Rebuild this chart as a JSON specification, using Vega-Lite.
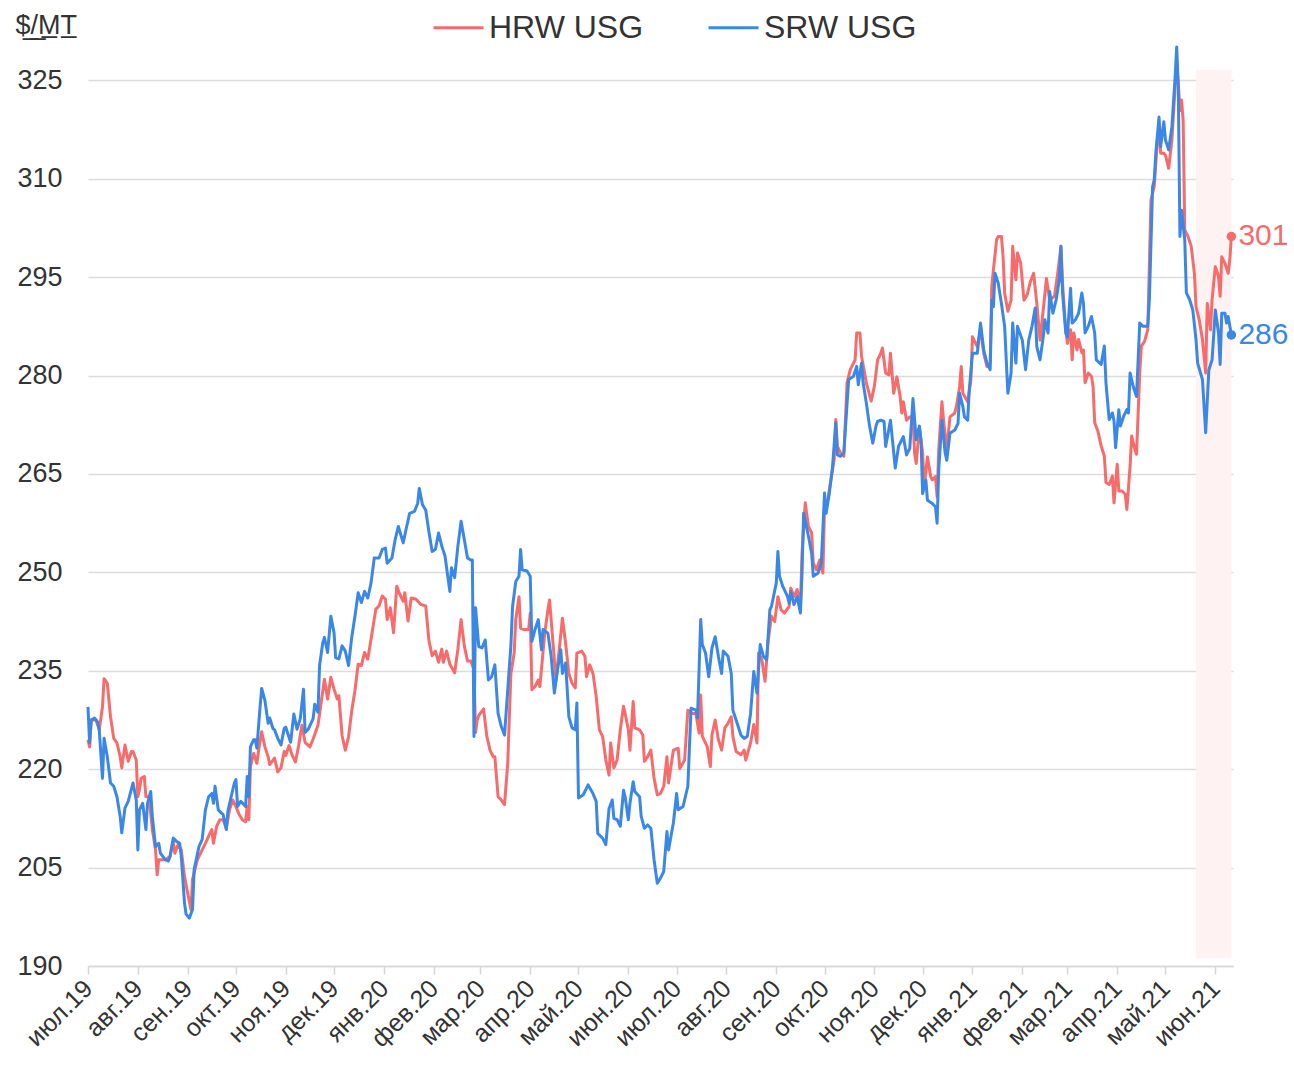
{
"$schema": "https://vega.github.io/schema/vega-lite/v6.json",
"width": 1145, "height": 925, "autosize": "none",
"padding": {"left": 88, "top": 41, "right": 61, "bottom": 99},
"background": "white",
"datasets": {
"prices": [
{"date":"2019-07-01","series":"HRW USG","value":224.5},{"date":"2019-07-02","series":"HRW USG","value":223.4},{"date":"2019-07-03","series":"HRW USG","value":227.5},{"date":"2019-07-06","series":"HRW USG","value":227.5},{"date":"2019-07-08","series":"HRW USG","value":226.0},{"date":"2019-07-10","series":"HRW USG","value":229.5},{"date":"2019-07-11","series":"HRW USG","value":233.8},{"date":"2019-07-13","series":"HRW USG","value":233.1},{"date":"2019-07-15","series":"HRW USG","value":228.0},{"date":"2019-07-17","series":"HRW USG","value":224.7},{"date":"2019-07-19","series":"HRW USG","value":224.0},{"date":"2019-07-21","series":"HRW USG","value":221.9},{"date":"2019-07-22","series":"HRW USG","value":220.2},{"date":"2019-07-24","series":"HRW USG","value":223.7},{"date":"2019-07-26","series":"HRW USG","value":221.2},{"date":"2019-07-28","series":"HRW USG","value":222.7},{"date":"2019-07-29","series":"HRW USG","value":222.7},{"date":"2019-07-31","series":"HRW USG","value":221.4},{"date":"2019-08-01","series":"HRW USG","value":215.8},{"date":"2019-08-02","series":"HRW USG","value":216.9},{"date":"2019-08-03","series":"HRW USG","value":218.6},{"date":"2019-08-05","series":"HRW USG","value":218.9},{"date":"2019-08-06","series":"HRW USG","value":215.8},{"date":"2019-08-08","series":"HRW USG","value":215.8},{"date":"2019-08-10","series":"HRW USG","value":210.8},{"date":"2019-08-12","series":"HRW USG","value":207.7},{"date":"2019-08-13","series":"HRW USG","value":203.9},{"date":"2019-08-14","series":"HRW USG","value":206.2},{"date":"2019-08-18","series":"HRW USG","value":206.2},{"date":"2019-08-21","series":"HRW USG","value":206.7},{"date":"2019-08-23","series":"HRW USG","value":209.0},{"date":"2019-08-24","series":"HRW USG","value":207.2},{"date":"2019-08-26","series":"HRW USG","value":208.5},{"date":"2019-08-28","series":"HRW USG","value":207.7},{"date":"2019-08-30","series":"HRW USG","value":203.7},{"date":"2019-09-01","series":"HRW USG","value":201.1},{"date":"2019-09-03","series":"HRW USG","value":198.6},{"date":"2019-09-04","series":"HRW USG","value":203.2},{"date":"2019-09-07","series":"HRW USG","value":206.2},{"date":"2019-09-10","series":"HRW USG","value":207.7},{"date":"2019-09-12","series":"HRW USG","value":208.7},{"date":"2019-09-14","series":"HRW USG","value":209.8},{"date":"2019-09-16","series":"HRW USG","value":210.8},{"date":"2019-09-17","series":"HRW USG","value":208.7},{"date":"2019-09-19","series":"HRW USG","value":211.3},{"date":"2019-09-21","series":"HRW USG","value":212.3},{"date":"2019-09-23","series":"HRW USG","value":212.3},{"date":"2019-09-25","series":"HRW USG","value":211.0},{"date":"2019-09-27","series":"HRW USG","value":213.8},{"date":"2019-09-29","series":"HRW USG","value":215.3},{"date":"2019-10-01","series":"HRW USG","value":214.3},{"date":"2019-10-03","series":"HRW USG","value":213.1},{"date":"2019-10-05","series":"HRW USG","value":212.3},{"date":"2019-10-07","series":"HRW USG","value":212.0},{"date":"2019-10-08","series":"HRW USG","value":214.3},{"date":"2019-10-09","series":"HRW USG","value":212.3},{"date":"2019-10-10","series":"HRW USG","value":220.4},{"date":"2019-10-12","series":"HRW USG","value":222.4},{"date":"2019-10-14","series":"HRW USG","value":220.9},{"date":"2019-10-15","series":"HRW USG","value":222.7},{"date":"2019-10-17","series":"HRW USG","value":225.7},{"date":"2019-10-19","series":"HRW USG","value":223.4},{"date":"2019-10-21","series":"HRW USG","value":221.9},{"date":"2019-10-22","series":"HRW USG","value":220.7},{"date":"2019-10-25","series":"HRW USG","value":221.7},{"date":"2019-10-27","series":"HRW USG","value":219.6},{"date":"2019-10-29","series":"HRW USG","value":220.2},{"date":"2019-10-31","series":"HRW USG","value":222.7},
{"date":"2019-11-01","series":"HRW USG","value":222.1},{"date":"2019-11-03","series":"HRW USG","value":223.6},{"date":"2019-11-05","series":"HRW USG","value":222.1},{"date":"2019-11-07","series":"HRW USG","value":221.1},{"date":"2019-11-09","series":"HRW USG","value":223.6},{"date":"2019-11-11","series":"HRW USG","value":226.7},{"date":"2019-11-13","series":"HRW USG","value":224.1},{"date":"2019-11-16","series":"HRW USG","value":223.4},{"date":"2019-11-18","series":"HRW USG","value":224.6},{"date":"2019-11-21","series":"HRW USG","value":226.7},{"date":"2019-11-23","series":"HRW USG","value":230.2},{"date":"2019-11-25","series":"HRW USG","value":233.7},{"date":"2019-11-27","series":"HRW USG","value":230.7},{"date":"2019-11-29","series":"HRW USG","value":234.0},{"date":"2019-12-01","series":"HRW USG","value":232.2},{"date":"2019-12-03","series":"HRW USG","value":230.7},{"date":"2019-12-04","series":"HRW USG","value":231.2},{"date":"2019-12-06","series":"HRW USG","value":225.1},{"date":"2019-12-08","series":"HRW USG","value":222.9},{"date":"2019-12-10","series":"HRW USG","value":224.9},{"date":"2019-12-12","series":"HRW USG","value":228.9},{"date":"2019-12-14","series":"HRW USG","value":232.0},{"date":"2019-12-16","series":"HRW USG","value":236.0},{"date":"2019-12-18","series":"HRW USG","value":235.8},{"date":"2019-12-20","series":"HRW USG","value":237.8},{"date":"2019-12-22","series":"HRW USG","value":236.8},{"date":"2019-12-24","series":"HRW USG","value":239.8},{"date":"2019-12-27","series":"HRW USG","value":244.4},{"date":"2019-12-29","series":"HRW USG","value":244.9},{"date":"2019-12-31","series":"HRW USG","value":246.4},{"date":"2020-01-02","series":"HRW USG","value":245.9},{"date":"2020-01-03","series":"HRW USG","value":242.8},{"date":"2020-01-05","series":"HRW USG","value":244.6},{"date":"2020-01-07","series":"HRW USG","value":240.8},{"date":"2020-01-09","series":"HRW USG","value":247.9},{"date":"2020-01-11","series":"HRW USG","value":246.6},{"date":"2020-01-13","series":"HRW USG","value":245.6},{"date":"2020-01-14","series":"HRW USG","value":246.9},{"date":"2020-01-16","series":"HRW USG","value":242.6},{"date":"2020-01-18","series":"HRW USG","value":246.1},{"date":"2020-01-21","series":"HRW USG","value":245.9},{"date":"2020-01-24","series":"HRW USG","value":245.1},{"date":"2020-01-27","series":"HRW USG","value":244.9},{"date":"2020-01-29","series":"HRW USG","value":239.6},{"date":"2020-01-31","series":"HRW USG","value":237.3},{"date":"2020-02-02","series":"HRW USG","value":238.0},{"date":"2020-02-04","series":"HRW USG","value":236.3},{"date":"2020-02-06","series":"HRW USG","value":238.3},{"date":"2020-02-07","series":"HRW USG","value":236.3},{"date":"2020-02-09","series":"HRW USG","value":238.0},{"date":"2020-02-11","series":"HRW USG","value":236.0},{"date":"2020-02-14","series":"HRW USG","value":234.7},{"date":"2020-02-16","series":"HRW USG","value":238.3},{"date":"2020-02-18","series":"HRW USG","value":242.8},{"date":"2020-02-20","series":"HRW USG","value":238.8},{"date":"2020-02-22","series":"HRW USG","value":236.5},{"date":"2020-02-24","series":"HRW USG","value":236.5},{"date":"2020-02-26","series":"HRW USG","value":235.2},{"date":"2020-02-27","series":"HRW USG","value":225.6},{"date":"2020-02-28","series":"HRW USG","value":227.5},{"date":"2020-02-29","series":"HRW USG","value":228.2},{"date":"2020-03-03","series":"HRW USG","value":229.2},{"date":"2020-03-05","series":"HRW USG","value":225.0},{"date":"2020-03-07","series":"HRW USG","value":222.9},{"date":"2020-03-09","series":"HRW USG","value":221.9},{"date":"2020-03-10","series":"HRW USG","value":221.9},{"date":"2020-03-12","series":"HRW USG","value":215.8},{"date":"2020-03-14","series":"HRW USG","value":215.3},{"date":"2020-03-16","series":"HRW USG","value":214.6},{"date":"2020-03-18","series":"HRW USG","value":220.9},{"date":"2020-03-19","series":"HRW USG","value":228.0},{"date":"2020-03-20","series":"HRW USG","value":234.6},{"date":"2020-03-22","series":"HRW USG","value":237.7},{"date":"2020-03-23","series":"HRW USG","value":242.8},{"date":"2020-03-25","series":"HRW USG","value":246.3},{"date":"2020-03-26","series":"HRW USG","value":241.5},{"date":"2020-03-28","series":"HRW USG","value":241.3},{"date":"2020-03-31","series":"HRW USG","value":241.3},{"date":"2020-04-01","series":"HRW USG","value":243.8},{"date":"2020-04-02","series":"HRW USG","value":232.1},{"date":"2020-04-04","series":"HRW USG","value":232.6},{"date":"2020-04-06","series":"HRW USG","value":233.6},{"date":"2020-04-07","series":"HRW USG","value":232.6},{"date":"2020-04-10","series":"HRW USG","value":240.7},{"date":"2020-04-12","series":"HRW USG","value":244.3},{"date":"2020-04-13","series":"HRW USG","value":245.8},{"date":"2020-04-15","series":"HRW USG","value":239.7},{"date":"2020-04-17","series":"HRW USG","value":233.6},{"date":"2020-04-19","series":"HRW USG","value":238.2},{"date":"2020-04-21","series":"HRW USG","value":243.0},{"date":"2020-04-23","series":"HRW USG","value":239.2},{"date":"2020-04-25","series":"HRW USG","value":234.6},{"date":"2020-04-27","series":"HRW USG","value":233.1},{"date":"2020-04-29","series":"HRW USG","value":232.4},{"date":"2020-04-30","series":"HRW USG","value":237.7},{"date":"2020-05-03","series":"HRW USG","value":238.0},{"date":"2020-05-05","series":"HRW USG","value":237.2},{"date":"2020-05-06","series":"HRW USG","value":234.1},{"date":"2020-05-08","series":"HRW USG","value":235.9},{"date":"2020-05-10","series":"HRW USG","value":234.6},{"date":"2020-05-12","series":"HRW USG","value":231.1},{"date":"2020-05-14","series":"HRW USG","value":226.0},{"date":"2020-05-16","series":"HRW USG","value":225.0},{"date":"2020-05-18","series":"HRW USG","value":221.4},{"date":"2020-05-20","series":"HRW USG","value":219.1},{"date":"2020-05-21","series":"HRW USG","value":224.0},{"date":"2020-05-23","series":"HRW USG","value":220.2},{"date":"2020-05-25","series":"HRW USG","value":221.4},{"date":"2020-05-27","series":"HRW USG","value":226.0},{"date":"2020-05-29","series":"HRW USG","value":229.6},{"date":"2020-05-30","series":"HRW USG","value":228.5},{"date":"2020-06-01","series":"HRW USG","value":226.0},{"date":"2020-06-02","series":"HRW USG","value":222.9},{"date":"2020-06-04","series":"HRW USG","value":230.3},{"date":"2020-06-05","series":"HRW USG","value":226.3},{"date":"2020-06-08","series":"HRW USG","value":226.0},{"date":"2020-06-10","series":"HRW USG","value":225.2},{"date":"2020-06-11","series":"HRW USG","value":221.2},{"date":"2020-06-13","series":"HRW USG","value":221.9},{"date":"2020-06-15","series":"HRW USG","value":222.9},{"date":"2020-06-17","series":"HRW USG","value":218.6},{"date":"2020-06-19","series":"HRW USG","value":216.1},{"date":"2020-06-21","series":"HRW USG","value":216.3},{"date":"2020-06-23","series":"HRW USG","value":217.4},{"date":"2020-06-25","series":"HRW USG","value":221.9},{"date":"2020-06-26","series":"HRW USG","value":217.9},{"date":"2020-06-29","series":"HRW USG","value":222.9},{"date":"2020-07-02","series":"HRW USG","value":223.2},{"date":"2020-07-03","series":"HRW USG","value":220.1},{"date":"2020-07-06","series":"HRW USG","value":221.4},{"date":"2020-07-08","series":"HRW USG","value":229.0},{"date":"2020-07-10","series":"HRW USG","value":228.5},{"date":"2020-07-13","series":"HRW USG","value":228.5},{"date":"2020-07-15","series":"HRW USG","value":225.5},{"date":"2020-07-16","series":"HRW USG","value":231.3},{"date":"2020-07-17","series":"HRW USG","value":225.0},{"date":"2020-07-20","series":"HRW USG","value":223.5},{"date":"2020-07-22","series":"HRW USG","value":220.4},{"date":"2020-07-23","series":"HRW USG","value":225.2},{"date":"2020-07-25","series":"HRW USG","value":227.5},{"date":"2020-07-27","series":"HRW USG","value":224.5},{"date":"2020-07-29","series":"HRW USG","value":222.9},{"date":"2020-07-31","series":"HRW USG","value":226.3},{"date":"2020-08-02","series":"HRW USG","value":227.0},{"date":"2020-08-04","series":"HRW USG","value":228.0},{"date":"2020-08-05","series":"HRW USG","value":225.0},{"date":"2020-08-07","series":"HRW USG","value":222.7},{"date":"2020-08-10","series":"HRW USG","value":222.2},{"date":"2020-08-12","series":"HRW USG","value":222.9},{"date":"2020-08-13","series":"HRW USG","value":221.4},{"date":"2020-08-16","series":"HRW USG","value":224.0},{"date":"2020-08-18","series":"HRW USG","value":226.8},{"date":"2020-08-20","series":"HRW USG","value":224.0},{"date":"2020-08-21","series":"HRW USG","value":237.7},{"date":"2020-08-23","series":"HRW USG","value":236.7},{"date":"2020-08-25","series":"HRW USG","value":233.4},{"date":"2020-08-27","series":"HRW USG","value":239.7},{"date":"2020-08-29","series":"HRW USG","value":243.3},{"date":"2020-08-31","series":"HRW USG","value":242.5},{"date":"2020-09-02","series":"HRW USG","value":246.3},{"date":"2020-09-04","series":"HRW USG","value":244.3},{"date":"2020-09-06","series":"HRW USG","value":243.8},{"date":"2020-09-09","series":"HRW USG","value":244.8},{"date":"2020-09-10","series":"HRW USG","value":247.6},{"date":"2020-09-12","series":"HRW USG","value":246.3},{"date":"2020-09-14","series":"HRW USG","value":247.4},{"date":"2020-09-16","series":"HRW USG","value":244.8},{"date":"2020-09-17","series":"HRW USG","value":252.9},{"date":"2020-09-19","series":"HRW USG","value":260.6},{"date":"2020-09-21","series":"HRW USG","value":257.0},{"date":"2020-09-23","series":"HRW USG","value":256.0},{"date":"2020-09-24","series":"HRW USG","value":251.4},{"date":"2020-09-26","series":"HRW USG","value":250.4},{"date":"2020-09-28","series":"HRW USG","value":251.9},{"date":"2020-09-30","series":"HRW USG","value":249.9},{"date":"2020-10-01","series":"HRW USG","value":260.1},{"date":"2020-10-03","series":"HRW USG","value":261.1},{"date":"2020-10-05","series":"HRW USG","value":264.1},{"date":"2020-10-07","series":"HRW USG","value":267.2},{"date":"2020-10-08","series":"HRW USG","value":273.3},{"date":"2020-10-09","series":"HRW USG","value":269.2},{"date":"2020-10-11","series":"HRW USG","value":268.2},{"date":"2020-10-13","series":"HRW USG","value":267.7},{"date":"2020-10-15","series":"HRW USG","value":278.9},{"date":"2020-10-17","series":"HRW USG","value":280.9},{"date":"2020-10-20","series":"HRW USG","value":282.4},{"date":"2020-10-21","series":"HRW USG","value":286.5},{"date":"2020-10-23","series":"HRW USG","value":286.5},{"date":"2020-10-24","series":"HRW USG","value":283.0},{"date":"2020-10-27","series":"HRW USG","value":278.9},{"date":"2020-10-30","series":"HRW USG","value":276.1},{"date":"2020-11-01","series":"HRW USG","value":278.4},{"date":"2020-11-03","series":"HRW USG","value":282.4},{"date":"2020-11-05","series":"HRW USG","value":283.4},{"date":"2020-11-06","series":"HRW USG","value":284.2},{"date":"2020-11-08","series":"HRW USG","value":280.4},{"date":"2020-11-10","series":"HRW USG","value":280.1},{"date":"2020-11-11","series":"HRW USG","value":283.4},{"date":"2020-11-13","series":"HRW USG","value":277.3},{"date":"2020-11-15","series":"HRW USG","value":279.8},{"date":"2020-11-17","series":"HRW USG","value":276.8},{"date":"2020-11-18","series":"HRW USG","value":274.3},{"date":"2020-11-19","series":"HRW USG","value":276.0},{"date":"2020-11-21","series":"HRW USG","value":273.2},{"date":"2020-11-23","series":"HRW USG","value":273.7},{"date":"2020-11-25","series":"HRW USG","value":273.7},{"date":"2020-11-26","series":"HRW USG","value":268.2},{"date":"2020-11-27","series":"HRW USG","value":266.6},{"date":"2020-11-29","series":"HRW USG","value":272.0},{"date":"2020-12-01","series":"HRW USG","value":268.2},{"date":"2020-12-02","series":"HRW USG","value":263.1},{"date":"2020-12-04","series":"HRW USG","value":267.6},{"date":"2020-12-06","series":"HRW USG","value":264.6},{"date":"2020-12-07","series":"HRW USG","value":264.1},{"date":"2020-12-09","series":"HRW USG","value":264.6},{"date":"2020-12-10","series":"HRW USG","value":261.5},{"date":"2020-12-11","series":"HRW USG","value":268.7},{"date":"2020-12-13","series":"HRW USG","value":276.0},{"date":"2020-12-14","series":"HRW USG","value":273.2},{"date":"2020-12-16","series":"HRW USG","value":268.7},{"date":"2020-12-18","series":"HRW USG","value":273.7},{"date":"2020-12-21","series":"HRW USG","value":274.3},{"date":"2020-12-22","series":"HRW USG","value":275.3},{"date":"2020-12-24","series":"HRW USG","value":278.3},{"date":"2020-12-25","series":"HRW USG","value":281.4},{"date":"2020-12-26","series":"HRW USG","value":277.3},{"date":"2020-12-29","series":"HRW USG","value":276.0},{"date":"2020-12-31","series":"HRW USG","value":279.3},{"date":"2021-01-01","series":"HRW USG","value":285.9},{"date":"2021-01-02","series":"HRW USG","value":285.4},{"date":"2021-01-04","series":"HRW USG","value":284.4},{"date":"2021-01-06","series":"HRW USG","value":287.0},{"date":"2021-01-08","series":"HRW USG","value":283.4},{"date":"2021-01-10","series":"HRW USG","value":281.4},{"date":"2021-01-12","series":"HRW USG","value":281.9},{"date":"2021-01-13","series":"HRW USG","value":293.6},{"date":"2021-01-14","series":"HRW USG","value":296.1},{"date":"2021-01-16","series":"HRW USG","value":300.7},{"date":"2021-01-17","series":"HRW USG","value":301.2},{"date":"2021-01-19","series":"HRW USG","value":301.2},{"date":"2021-01-20","series":"HRW USG","value":298.2},{"date":"2021-01-21","series":"HRW USG","value":292.6},{"date":"2021-01-23","series":"HRW USG","value":289.8},{"date":"2021-01-25","series":"HRW USG","value":291.5},{"date":"2021-01-26","series":"HRW USG","value":299.7},{"date":"2021-01-28","series":"HRW USG","value":294.6},{"date":"2021-01-29","series":"HRW USG","value":298.7},{"date":"2021-01-31","series":"HRW USG","value":297.1},{"date":"2021-02-02","series":"HRW USG","value":291.5},{"date":"2021-02-04","series":"HRW USG","value":292.3},{"date":"2021-02-06","series":"HRW USG","value":294.3},{"date":"2021-02-08","series":"HRW USG","value":295.6},{"date":"2021-02-10","series":"HRW USG","value":291.0},{"date":"2021-02-12","series":"HRW USG","value":285.4},{"date":"2021-02-14","series":"HRW USG","value":290.0},{"date":"2021-02-16","series":"HRW USG","value":294.8},{"date":"2021-02-18","series":"HRW USG","value":291.5},{"date":"2021-02-21","series":"HRW USG","value":292.1},{"date":"2021-02-23","series":"HRW USG","value":295.6},{"date":"2021-02-25","series":"HRW USG","value":299.7},{"date":"2021-02-26","series":"HRW USG","value":294.1},{"date":"2021-02-28","series":"HRW USG","value":287.0},{"date":"2021-03-01","series":"HRW USG","value":284.9},{"date":"2021-03-03","series":"HRW USG","value":287.0},{"date":"2021-03-04","series":"HRW USG","value":282.4},{"date":"2021-03-05","series":"HRW USG","value":286.5},{"date":"2021-03-07","series":"HRW USG","value":283.9},{"date":"2021-03-08","series":"HRW USG","value":285.5},{"date":"2021-03-10","series":"HRW USG","value":283.5},{"date":"2021-03-11","series":"HRW USG","value":283.9},{"date":"2021-03-12","series":"HRW USG","value":278.9},{"date":"2021-03-14","series":"HRW USG","value":280.4},{"date":"2021-03-16","series":"HRW USG","value":279.9},{"date":"2021-03-17","series":"HRW USG","value":278.3},{"date":"2021-03-18","series":"HRW USG","value":272.8},{"date":"2021-03-20","series":"HRW USG","value":271.5},{"date":"2021-03-22","series":"HRW USG","value":269.3},{"date":"2021-03-24","series":"HRW USG","value":267.7},{"date":"2021-03-25","series":"HRW USG","value":263.7},{"date":"2021-03-27","series":"HRW USG","value":263.4},{"date":"2021-03-29","series":"HRW USG","value":264.7},{"date":"2021-03-30","series":"HRW USG","value":260.6},{"date":"2021-04-01","series":"HRW USG","value":266.5},{"date":"2021-04-02","series":"HRW USG","value":262.4},{"date":"2021-04-04","series":"HRW USG","value":262.4},{"date":"2021-04-06","series":"HRW USG","value":261.9},{"date":"2021-04-07","series":"HRW USG","value":259.6},{"date":"2021-04-09","series":"HRW USG","value":266.2},{"date":"2021-04-10","series":"HRW USG","value":270.8},{"date":"2021-04-12","series":"HRW USG","value":268.7},{"date":"2021-04-13","series":"HRW USG","value":268.0},{"date":"2021-04-15","series":"HRW USG","value":280.4},{"date":"2021-04-16","series":"HRW USG","value":284.5},{"date":"2021-04-18","series":"HRW USG","value":285.2},{"date":"2021-04-20","series":"HRW USG","value":287.0},{"date":"2021-04-22","series":"HRW USG","value":306.8},{"date":"2021-04-24","series":"HRW USG","value":308.8},{"date":"2021-04-26","series":"HRW USG","value":315.9},{"date":"2021-04-27","series":"HRW USG","value":317.9},{"date":"2021-04-28","series":"HRW USG","value":313.9},{"date":"2021-04-30","series":"HRW USG","value":313.9},{"date":"2021-05-01","series":"HRW USG","value":313.6},{"date":"2021-05-03","series":"HRW USG","value":311.6},{"date":"2021-05-05","series":"HRW USG","value":315.9},{"date":"2021-05-07","series":"HRW USG","value":324.0},{"date":"2021-05-08","series":"HRW USG","value":328.0},{"date":"2021-05-09","series":"HRW USG","value":324.5},{"date":"2021-05-10","series":"HRW USG","value":320.4},{"date":"2021-05-11","series":"HRW USG","value":322.0},{"date":"2021-05-12","series":"HRW USG","value":318.9},{"date":"2021-05-13","series":"HRW USG","value":302.2},{"date":"2021-05-15","series":"HRW USG","value":301.2},{"date":"2021-05-17","series":"HRW USG","value":299.7},{"date":"2021-05-19","series":"HRW USG","value":295.6},{"date":"2021-05-20","series":"HRW USG","value":290.5},{"date":"2021-05-22","series":"HRW USG","value":288.5},{"date":"2021-05-24","series":"HRW USG","value":285.5},{"date":"2021-05-26","series":"HRW USG","value":280.4},{"date":"2021-05-27","series":"HRW USG","value":291.0},{"date":"2021-05-29","series":"HRW USG","value":287.0},{"date":"2021-05-30","series":"HRW USG","value":291.6},{"date":"2021-06-01","series":"HRW USG","value":296.6},{"date":"2021-06-03","series":"HRW USG","value":295.1},{"date":"2021-06-04","series":"HRW USG","value":292.1},{"date":"2021-06-05","series":"HRW USG","value":298.1},{"date":"2021-06-07","series":"HRW USG","value":297.1},{"date":"2021-06-09","series":"HRW USG","value":295.6},{"date":"2021-06-10","series":"HRW USG","value":297.6},{"date":"2021-06-11","series":"HRW USG","value":301.2},
{"date":"2019-07-01","series":"SRW USG","value":229.5},{"date":"2019-07-02","series":"SRW USG","value":224.0},{"date":"2019-07-03","series":"SRW USG","value":227.5},{"date":"2019-07-05","series":"SRW USG","value":227.8},{"date":"2019-07-07","series":"SRW USG","value":227.2},{"date":"2019-07-08","series":"SRW USG","value":226.0},{"date":"2019-07-10","series":"SRW USG","value":218.6},{"date":"2019-07-11","series":"SRW USG","value":224.7},{"date":"2019-07-13","series":"SRW USG","value":221.9},{"date":"2019-07-15","series":"SRW USG","value":217.9},{"date":"2019-07-17","series":"SRW USG","value":217.4},{"date":"2019-07-19","series":"SRW USG","value":215.8},{"date":"2019-07-21","series":"SRW USG","value":212.8},{"date":"2019-07-22","series":"SRW USG","value":210.3},{"date":"2019-07-24","series":"SRW USG","value":214.1},{"date":"2019-07-26","series":"SRW USG","value":215.1},{"date":"2019-07-29","series":"SRW USG","value":217.9},{"date":"2019-07-31","series":"SRW USG","value":215.3},{"date":"2019-08-01","series":"SRW USG","value":207.7},{"date":"2019-08-02","series":"SRW USG","value":213.8},{"date":"2019-08-04","series":"SRW USG","value":214.8},{"date":"2019-08-06","series":"SRW USG","value":210.8},{"date":"2019-08-07","series":"SRW USG","value":214.8},{"date":"2019-08-09","series":"SRW USG","value":216.6},{"date":"2019-08-10","series":"SRW USG","value":212.8},{"date":"2019-08-12","series":"SRW USG","value":208.2},{"date":"2019-08-14","series":"SRW USG","value":208.7},{"date":"2019-08-15","series":"SRW USG","value":207.2},{"date":"2019-08-18","series":"SRW USG","value":206.2},{"date":"2019-08-20","series":"SRW USG","value":206.0},{"date":"2019-08-21","series":"SRW USG","value":206.7},{"date":"2019-08-23","series":"SRW USG","value":209.5},{"date":"2019-08-25","series":"SRW USG","value":209.0},{"date":"2019-08-27","series":"SRW USG","value":208.7},{"date":"2019-08-28","series":"SRW USG","value":206.7},{"date":"2019-08-30","series":"SRW USG","value":199.6},{"date":"2019-08-31","series":"SRW USG","value":197.9},{"date":"2019-09-02","series":"SRW USG","value":197.3},{"date":"2019-09-04","series":"SRW USG","value":198.6},{"date":"2019-09-05","series":"SRW USG","value":204.7},{"date":"2019-09-08","series":"SRW USG","value":208.2},{"date":"2019-09-10","series":"SRW USG","value":209.3},{"date":"2019-09-12","series":"SRW USG","value":213.8},{"date":"2019-09-14","series":"SRW USG","value":215.8},{"date":"2019-09-16","series":"SRW USG","value":216.3},{"date":"2019-09-17","series":"SRW USG","value":214.8},{"date":"2019-09-18","series":"SRW USG","value":217.4},{"date":"2019-09-20","series":"SRW USG","value":213.8},{"date":"2019-09-22","series":"SRW USG","value":213.3},{"date":"2019-09-23","series":"SRW USG","value":213.1},{"date":"2019-09-25","series":"SRW USG","value":210.8},{"date":"2019-09-26","series":"SRW USG","value":213.6},{"date":"2019-09-28","series":"SRW USG","value":215.8},{"date":"2019-09-30","series":"SRW USG","value":217.9},{"date":"2019-10-01","series":"SRW USG","value":218.4},{"date":"2019-10-02","series":"SRW USG","value":214.3},{"date":"2019-10-04","series":"SRW USG","value":215.1},{"date":"2019-10-06","series":"SRW USG","value":214.6},{"date":"2019-10-07","series":"SRW USG","value":214.3},{"date":"2019-10-08","series":"SRW USG","value":218.9},{"date":"2019-10-09","series":"SRW USG","value":215.8},{"date":"2019-10-10","series":"SRW USG","value":223.4},{"date":"2019-10-12","series":"SRW USG","value":224.5},{"date":"2019-10-13","series":"SRW USG","value":224.5},{"date":"2019-10-14","series":"SRW USG","value":223.2},{"date":"2019-10-16","series":"SRW USG","value":229.5},{"date":"2019-10-17","series":"SRW USG","value":232.3},{"date":"2019-10-19","series":"SRW USG","value":230.5},{"date":"2019-10-21","series":"SRW USG","value":227.0},{"date":"2019-10-22","series":"SRW USG","value":227.8},{"date":"2019-10-24","series":"SRW USG","value":226.2},{"date":"2019-10-25","series":"SRW USG","value":226.0},{"date":"2019-10-27","series":"SRW USG","value":224.7},{"date":"2019-10-29","series":"SRW USG","value":223.7},{"date":"2019-10-31","series":"SRW USG","value":226.2},
{"date":"2019-11-01","series":"SRW USG","value":226.4},{"date":"2019-11-04","series":"SRW USG","value":224.1},{"date":"2019-11-06","series":"SRW USG","value":228.4},{"date":"2019-11-08","series":"SRW USG","value":226.1},{"date":"2019-11-10","series":"SRW USG","value":227.7},{"date":"2019-11-12","series":"SRW USG","value":232.2},{"date":"2019-11-13","series":"SRW USG","value":225.6},{"date":"2019-11-15","series":"SRW USG","value":226.1},{"date":"2019-11-18","series":"SRW USG","value":227.7},{"date":"2019-11-19","series":"SRW USG","value":229.9},{"date":"2019-11-21","series":"SRW USG","value":228.7},{"date":"2019-11-22","series":"SRW USG","value":235.8},{"date":"2019-11-24","series":"SRW USG","value":239.3},{"date":"2019-11-25","series":"SRW USG","value":240.1},{"date":"2019-11-27","series":"SRW USG","value":237.8},{"date":"2019-11-29","series":"SRW USG","value":243.3},{"date":"2019-12-01","series":"SRW USG","value":240.8},{"date":"2019-12-02","series":"SRW USG","value":237.0},{"date":"2019-12-04","series":"SRW USG","value":236.8},{"date":"2019-12-06","series":"SRW USG","value":238.8},{"date":"2019-12-08","series":"SRW USG","value":238.0},{"date":"2019-12-10","series":"SRW USG","value":235.8},{"date":"2019-12-12","series":"SRW USG","value":240.1},{"date":"2019-12-14","series":"SRW USG","value":243.3},{"date":"2019-12-16","series":"SRW USG","value":246.9},{"date":"2019-12-18","series":"SRW USG","value":245.4},{"date":"2019-12-20","series":"SRW USG","value":247.1},{"date":"2019-12-22","series":"SRW USG","value":246.1},{"date":"2019-12-24","series":"SRW USG","value":248.4},{"date":"2019-12-26","series":"SRW USG","value":252.2},{"date":"2019-12-29","series":"SRW USG","value":252.2},{"date":"2019-12-31","series":"SRW USG","value":253.5},{"date":"2020-01-02","series":"SRW USG","value":253.7},{"date":"2020-01-03","series":"SRW USG","value":251.4},{"date":"2020-01-06","series":"SRW USG","value":252.2},{"date":"2020-01-08","series":"SRW USG","value":255.0},{"date":"2020-01-10","series":"SRW USG","value":257.0},{"date":"2020-01-13","series":"SRW USG","value":254.5},{"date":"2020-01-15","series":"SRW USG","value":256.8},{"date":"2020-01-17","series":"SRW USG","value":259.0},{"date":"2020-01-20","series":"SRW USG","value":259.3},{"date":"2020-01-22","series":"SRW USG","value":260.5},{"date":"2020-01-23","series":"SRW USG","value":262.8},{"date":"2020-01-25","series":"SRW USG","value":260.3},{"date":"2020-01-27","series":"SRW USG","value":259.5},{"date":"2020-01-29","series":"SRW USG","value":256.2},{"date":"2020-01-31","series":"SRW USG","value":253.2},{"date":"2020-02-02","series":"SRW USG","value":253.5},{"date":"2020-02-04","series":"SRW USG","value":256.0},{"date":"2020-02-06","series":"SRW USG","value":254.0},{"date":"2020-02-08","series":"SRW USG","value":252.5},{"date":"2020-02-11","series":"SRW USG","value":247.1},{"date":"2020-02-12","series":"SRW USG","value":250.7},{"date":"2020-02-14","series":"SRW USG","value":249.2},{"date":"2020-02-16","series":"SRW USG","value":254.0},{"date":"2020-02-18","series":"SRW USG","value":257.8},{"date":"2020-02-20","series":"SRW USG","value":255.0},{"date":"2020-02-22","series":"SRW USG","value":252.2},{"date":"2020-02-24","series":"SRW USG","value":251.9},{"date":"2020-02-25","series":"SRW USG","value":251.9},{"date":"2020-02-26","series":"SRW USG","value":225.0},{"date":"2020-02-27","series":"SRW USG","value":244.6},{"date":"2020-02-29","series":"SRW USG","value":238.7},{"date":"2020-03-02","series":"SRW USG","value":238.5},{"date":"2020-03-04","series":"SRW USG","value":239.7},{"date":"2020-03-06","series":"SRW USG","value":233.6},{"date":"2020-03-08","series":"SRW USG","value":234.1},{"date":"2020-03-10","series":"SRW USG","value":235.9},{"date":"2020-03-12","series":"SRW USG","value":228.5},{"date":"2020-03-14","series":"SRW USG","value":226.5},{"date":"2020-03-16","series":"SRW USG","value":225.2},{"date":"2020-03-18","series":"SRW USG","value":232.1},{"date":"2020-03-20","series":"SRW USG","value":239.0},{"date":"2020-03-21","series":"SRW USG","value":244.8},{"date":"2020-03-23","series":"SRW USG","value":248.6},{"date":"2020-03-25","series":"SRW USG","value":249.4},{"date":"2020-03-26","series":"SRW USG","value":253.5},{"date":"2020-03-27","series":"SRW USG","value":250.4},{"date":"2020-03-30","series":"SRW USG","value":250.2},{"date":"2020-04-01","series":"SRW USG","value":249.4},{"date":"2020-04-02","series":"SRW USG","value":239.5},{"date":"2020-04-04","series":"SRW USG","value":241.3},{"date":"2020-04-06","series":"SRW USG","value":242.8},{"date":"2020-04-08","series":"SRW USG","value":238.2},{"date":"2020-04-09","series":"SRW USG","value":241.3},{"date":"2020-04-12","series":"SRW USG","value":240.7},{"date":"2020-04-14","series":"SRW USG","value":237.2},{"date":"2020-04-16","series":"SRW USG","value":231.6},{"date":"2020-04-18","series":"SRW USG","value":235.2},{"date":"2020-04-20","series":"SRW USG","value":238.2},{"date":"2020-04-21","series":"SRW USG","value":234.6},{"date":"2020-04-23","series":"SRW USG","value":236.2},{"date":"2020-04-25","series":"SRW USG","value":228.0},{"date":"2020-04-27","series":"SRW USG","value":226.3},{"date":"2020-04-29","series":"SRW USG","value":226.0},{"date":"2020-04-30","series":"SRW USG","value":230.1},{"date":"2020-05-01","series":"SRW USG","value":215.6},{"date":"2020-05-04","series":"SRW USG","value":216.1},{"date":"2020-05-07","series":"SRW USG","value":217.6},{"date":"2020-05-10","series":"SRW USG","value":216.3},{"date":"2020-05-12","series":"SRW USG","value":215.1},{"date":"2020-05-13","series":"SRW USG","value":210.2},{"date":"2020-05-16","series":"SRW USG","value":209.5},{"date":"2020-05-18","series":"SRW USG","value":208.5},{"date":"2020-05-20","series":"SRW USG","value":214.0},{"date":"2020-05-22","series":"SRW USG","value":215.3},{"date":"2020-05-23","series":"SRW USG","value":212.5},{"date":"2020-05-25","series":"SRW USG","value":212.3},{"date":"2020-05-27","series":"SRW USG","value":211.3},{"date":"2020-05-29","series":"SRW USG","value":216.8},{"date":"2020-05-30","series":"SRW USG","value":215.8},{"date":"2020-06-01","series":"SRW USG","value":212.3},{"date":"2020-06-02","series":"SRW USG","value":214.8},{"date":"2020-06-04","series":"SRW USG","value":218.1},{"date":"2020-06-05","series":"SRW USG","value":216.6},{"date":"2020-06-08","series":"SRW USG","value":215.8},{"date":"2020-06-09","series":"SRW USG","value":212.8},{"date":"2020-06-11","series":"SRW USG","value":211.0},{"date":"2020-06-13","series":"SRW USG","value":211.5},{"date":"2020-06-15","series":"SRW USG","value":211.0},{"date":"2020-06-17","series":"SRW USG","value":206.2},{"date":"2020-06-19","series":"SRW USG","value":202.6},{"date":"2020-06-21","series":"SRW USG","value":203.4},{"date":"2020-06-23","series":"SRW USG","value":204.4},{"date":"2020-06-25","series":"SRW USG","value":210.5},{"date":"2020-06-26","series":"SRW USG","value":207.7},{"date":"2020-06-29","series":"SRW USG","value":211.8},{"date":"2020-07-01","series":"SRW USG","value":216.3},{"date":"2020-07-02","series":"SRW USG","value":213.8},{"date":"2020-07-05","series":"SRW USG","value":214.3},{"date":"2020-07-08","series":"SRW USG","value":217.4},{"date":"2020-07-10","series":"SRW USG","value":229.3},{"date":"2020-07-13","series":"SRW USG","value":229.0},{"date":"2020-07-14","series":"SRW USG","value":227.8},{"date":"2020-07-16","series":"SRW USG","value":242.8},{"date":"2020-07-17","series":"SRW USG","value":239.0},{"date":"2020-07-19","series":"SRW USG","value":237.7},{"date":"2020-07-21","series":"SRW USG","value":234.1},{"date":"2020-07-23","series":"SRW USG","value":238.5},{"date":"2020-07-25","series":"SRW USG","value":240.2},{"date":"2020-07-27","series":"SRW USG","value":237.2},{"date":"2020-07-29","series":"SRW USG","value":234.6},{"date":"2020-07-30","series":"SRW USG","value":238.0},{"date":"2020-08-02","series":"SRW USG","value":237.2},{"date":"2020-08-04","series":"SRW USG","value":234.6},{"date":"2020-08-05","series":"SRW USG","value":229.0},{"date":"2020-08-07","series":"SRW USG","value":227.5},{"date":"2020-08-10","series":"SRW USG","value":225.2},{"date":"2020-08-12","series":"SRW USG","value":224.7},{"date":"2020-08-14","series":"SRW USG","value":225.0},{"date":"2020-08-16","series":"SRW USG","value":228.5},{"date":"2020-08-18","series":"SRW USG","value":234.9},{"date":"2020-08-20","series":"SRW USG","value":231.6},{"date":"2020-08-22","series":"SRW USG","value":239.0},{"date":"2020-08-24","series":"SRW USG","value":237.2},{"date":"2020-08-26","series":"SRW USG","value":236.7},{"date":"2020-08-28","series":"SRW USG","value":244.3},{"date":"2020-08-29","series":"SRW USG","value":244.8},{"date":"2020-09-01","series":"SRW USG","value":248.4},{"date":"2020-09-02","series":"SRW USG","value":253.2},{"date":"2020-09-03","series":"SRW USG","value":249.4},{"date":"2020-09-05","series":"SRW USG","value":247.9},{"date":"2020-09-08","series":"SRW USG","value":246.3},{"date":"2020-09-09","series":"SRW USG","value":245.3},{"date":"2020-09-10","series":"SRW USG","value":247.1},{"date":"2020-09-12","series":"SRW USG","value":245.1},{"date":"2020-09-14","series":"SRW USG","value":246.3},{"date":"2020-09-16","series":"SRW USG","value":243.8},{"date":"2020-09-17","series":"SRW USG","value":249.9},{"date":"2020-09-18","series":"SRW USG","value":259.0},{"date":"2020-09-21","series":"SRW USG","value":255.5},{"date":"2020-09-23","series":"SRW USG","value":252.9},{"date":"2020-09-24","series":"SRW USG","value":249.4},{"date":"2020-09-27","series":"SRW USG","value":249.9},{"date":"2020-09-29","series":"SRW USG","value":251.4},{"date":"2020-10-01","series":"SRW USG","value":262.1},{"date":"2020-10-02","series":"SRW USG","value":259.0},{"date":"2020-10-04","series":"SRW USG","value":262.1},{"date":"2020-10-06","series":"SRW USG","value":266.2},{"date":"2020-10-08","series":"SRW USG","value":272.8},{"date":"2020-10-09","series":"SRW USG","value":267.9},{"date":"2020-10-11","series":"SRW USG","value":267.7},{"date":"2020-10-13","series":"SRW USG","value":268.2},{"date":"2020-10-16","series":"SRW USG","value":279.4},{"date":"2020-10-19","series":"SRW USG","value":279.9},{"date":"2020-10-21","series":"SRW USG","value":281.4},{"date":"2020-10-22","series":"SRW USG","value":278.6},{"date":"2020-10-24","series":"SRW USG","value":281.9},{"date":"2020-10-25","series":"SRW USG","value":278.9},{"date":"2020-10-27","series":"SRW USG","value":275.8},{"date":"2020-10-29","series":"SRW USG","value":272.3},{"date":"2020-10-31","series":"SRW USG","value":269.7},{"date":"2020-11-02","series":"SRW USG","value":272.3},{"date":"2020-11-03","series":"SRW USG","value":273.0},{"date":"2020-11-05","series":"SRW USG","value":273.2},{"date":"2020-11-07","series":"SRW USG","value":273.0},{"date":"2020-11-08","series":"SRW USG","value":269.2},{"date":"2020-11-11","series":"SRW USG","value":273.2},{"date":"2020-11-14","series":"SRW USG","value":265.9},{"date":"2020-11-16","series":"SRW USG","value":269.2},{"date":"2020-11-18","series":"SRW USG","value":270.2},{"date":"2020-11-19","series":"SRW USG","value":270.7},{"date":"2020-11-21","series":"SRW USG","value":267.9},{"date":"2020-11-23","series":"SRW USG","value":268.9},{"date":"2020-11-25","series":"SRW USG","value":276.5},{"date":"2020-11-27","series":"SRW USG","value":270.2},{"date":"2020-11-29","series":"SRW USG","value":272.3},{"date":"2020-11-30","series":"SRW USG","value":270.2},{"date":"2020-12-01","series":"SRW USG","value":262.0},{"date":"2020-12-03","series":"SRW USG","value":264.1},{"date":"2020-12-04","series":"SRW USG","value":261.0},{"date":"2020-12-07","series":"SRW USG","value":260.5},{"date":"2020-12-09","series":"SRW USG","value":260.0},{"date":"2020-12-10","series":"SRW USG","value":257.5},{"date":"2020-12-11","series":"SRW USG","value":265.6},{"date":"2020-12-13","series":"SRW USG","value":273.2},{"date":"2020-12-15","series":"SRW USG","value":268.2},{"date":"2020-12-16","series":"SRW USG","value":267.1},{"date":"2020-12-18","series":"SRW USG","value":271.2},{"date":"2020-12-21","series":"SRW USG","value":271.7},{"date":"2020-12-23","series":"SRW USG","value":272.7},{"date":"2020-12-24","series":"SRW USG","value":277.3},{"date":"2020-12-26","series":"SRW USG","value":275.3},{"date":"2020-12-27","series":"SRW USG","value":273.7},{"date":"2020-12-29","series":"SRW USG","value":273.2},{"date":"2020-12-30","series":"SRW USG","value":277.8},{"date":"2021-01-01","series":"SRW USG","value":283.4},{"date":"2021-01-02","series":"SRW USG","value":283.4},{"date":"2021-01-04","series":"SRW USG","value":283.4},{"date":"2021-01-06","series":"SRW USG","value":288.0},{"date":"2021-01-08","series":"SRW USG","value":283.9},{"date":"2021-01-10","series":"SRW USG","value":281.9},{"date":"2021-01-12","series":"SRW USG","value":280.9},{"date":"2021-01-13","series":"SRW USG","value":291.5},{"date":"2021-01-14","series":"SRW USG","value":290.5},{"date":"2021-01-15","series":"SRW USG","value":295.6},{"date":"2021-01-17","series":"SRW USG","value":294.1},{"date":"2021-01-19","series":"SRW USG","value":291.0},{"date":"2021-01-21","series":"SRW USG","value":287.5},{"date":"2021-01-23","series":"SRW USG","value":277.3},{"date":"2021-01-25","series":"SRW USG","value":280.4},{"date":"2021-01-26","series":"SRW USG","value":288.0},{"date":"2021-01-28","series":"SRW USG","value":281.9},{"date":"2021-01-29","series":"SRW USG","value":287.5},{"date":"2021-02-01","series":"SRW USG","value":285.4},{"date":"2021-02-03","series":"SRW USG","value":280.9},{"date":"2021-02-05","series":"SRW USG","value":285.4},{"date":"2021-02-07","series":"SRW USG","value":287.5},{"date":"2021-02-09","series":"SRW USG","value":290.3},{"date":"2021-02-10","series":"SRW USG","value":284.4},{"date":"2021-02-12","series":"SRW USG","value":282.4},{"date":"2021-02-14","series":"SRW USG","value":285.9},{"date":"2021-02-15","series":"SRW USG","value":288.5},{"date":"2021-02-17","series":"SRW USG","value":286.5},{"date":"2021-02-18","series":"SRW USG","value":292.8},{"date":"2021-02-20","series":"SRW USG","value":289.5},{"date":"2021-02-22","series":"SRW USG","value":291.5},{"date":"2021-02-24","series":"SRW USG","value":294.6},{"date":"2021-02-25","series":"SRW USG","value":299.7},{"date":"2021-02-26","series":"SRW USG","value":292.6},{"date":"2021-02-28","series":"SRW USG","value":286.5},{"date":"2021-03-01","series":"SRW USG","value":285.9},{"date":"2021-03-03","series":"SRW USG","value":293.3},{"date":"2021-03-04","series":"SRW USG","value":288.0},{"date":"2021-03-06","series":"SRW USG","value":288.5},{"date":"2021-03-08","series":"SRW USG","value":289.5},{"date":"2021-03-10","series":"SRW USG","value":292.6},{"date":"2021-03-11","series":"SRW USG","value":291.0},{"date":"2021-03-12","series":"SRW USG","value":286.5},{"date":"2021-03-14","series":"SRW USG","value":287.5},{"date":"2021-03-16","series":"SRW USG","value":289.0},{"date":"2021-03-18","series":"SRW USG","value":286.5},{"date":"2021-03-19","series":"SRW USG","value":282.4},{"date":"2021-03-22","series":"SRW USG","value":281.7},{"date":"2021-03-24","series":"SRW USG","value":284.5},{"date":"2021-03-25","series":"SRW USG","value":278.9},{"date":"2021-03-27","series":"SRW USG","value":273.3},{"date":"2021-03-29","series":"SRW USG","value":274.3},{"date":"2021-03-30","series":"SRW USG","value":273.1},{"date":"2021-03-31","series":"SRW USG","value":269.0},{"date":"2021-04-02","series":"SRW USG","value":274.8},{"date":"2021-04-03","series":"SRW USG","value":272.3},{"date":"2021-04-05","series":"SRW USG","value":273.8},{"date":"2021-04-07","series":"SRW USG","value":274.8},{"date":"2021-04-08","series":"SRW USG","value":274.3},{"date":"2021-04-09","series":"SRW USG","value":280.4},{"date":"2021-04-11","series":"SRW USG","value":278.3},{"date":"2021-04-13","series":"SRW USG","value":276.8},{"date":"2021-04-15","series":"SRW USG","value":288.0},{"date":"2021-04-17","series":"SRW USG","value":287.5},{"date":"2021-04-20","series":"SRW USG","value":287.5},{"date":"2021-04-21","series":"SRW USG","value":291.6},{"date":"2021-04-23","series":"SRW USG","value":308.8},{"date":"2021-04-24","series":"SRW USG","value":309.8},{"date":"2021-04-25","series":"SRW USG","value":313.9},{"date":"2021-04-27","series":"SRW USG","value":319.4},{"date":"2021-04-28","series":"SRW USG","value":314.9},{"date":"2021-04-30","series":"SRW USG","value":318.7},{"date":"2021-05-01","series":"SRW USG","value":315.9},{"date":"2021-05-03","series":"SRW USG","value":314.4},{"date":"2021-05-05","series":"SRW USG","value":317.9},{"date":"2021-05-07","series":"SRW USG","value":325.5},{"date":"2021-05-08","series":"SRW USG","value":330.1},{"date":"2021-05-09","series":"SRW USG","value":323.5},{"date":"2021-05-10","series":"SRW USG","value":301.2},{"date":"2021-05-11","series":"SRW USG","value":305.2},{"date":"2021-05-13","series":"SRW USG","value":300.7},{"date":"2021-05-14","series":"SRW USG","value":292.6},{"date":"2021-05-16","series":"SRW USG","value":291.6},{"date":"2021-05-18","series":"SRW USG","value":290.0},{"date":"2021-05-20","series":"SRW USG","value":285.5},{"date":"2021-05-21","series":"SRW USG","value":281.9},{"date":"2021-05-24","series":"SRW USG","value":279.4},{"date":"2021-05-26","series":"SRW USG","value":271.3},{"date":"2021-05-28","series":"SRW USG","value":280.9},{"date":"2021-05-30","series":"SRW USG","value":282.4},{"date":"2021-06-01","series":"SRW USG","value":290.0},{"date":"2021-06-03","series":"SRW USG","value":286.5},{"date":"2021-06-04","series":"SRW USG","value":281.7},{"date":"2021-06-05","series":"SRW USG","value":289.5},{"date":"2021-06-07","series":"SRW USG","value":289.5},{"date":"2021-06-08","series":"SRW USG","value":288.0},{"date":"2021-06-09","series":"SRW USG","value":289.0},{"date":"2021-06-11","series":"SRW USG","value":286.2}
],
"latest": [
{"date":"2021-06-11","series":"HRW USG","value":301.2},
{"date":"2021-06-11","series":"SRW USG","value":286.2}
],
"band": [
{"date":"2021-05-20","date_end":"2021-06-11","value":191.2,"value_end":326.6}
]
},
"layer": [
{"data":{"name":"band"},
 "mark":{"type":"rect","color":"#fef2f2"},
 "encoding":{
  "x":{"field":"date","type":"temporal","title":null},
  "x2":{"field":"date_end"},
  "y":{"field":"value","type":"quantitative","title":"$\u0332/\u0332M\u0332T\u0332"},
  "y2":{"field":"value_end"}}},
{"data":{"name":"prices"},
 "mark":{"type":"line","strokeWidth":3,"strokeJoin":"round"},
 "encoding":{
  "x":{"field":"date","type":"temporal","title":null,
   "scale":{"type":"utc","domain":[{"year":2019,"month":7,"date":1,"utc":true},{"year":2021,"month":6,"date":12,"utc":true}]},
   "axis":{"tickCount":{"interval":"month","step":1},
    "labelExpr":"['янв','фев','мар','апр','май','июн','июл','авг','сен','окт','ноя','дек'][utcmonth(datum.value)] + '.' + utcFormat(datum.value, '%y')"}},
  "y":{"field":"value","type":"quantitative","title":"$\u0332/\u0332M\u0332T\u0332",
   "scale":{"domain":[190,331],"nice":false,"zero":false},
   "axis":{"values":[190,205,220,235,250,265,280,295,310,325]}},
  "color":{"field":"series","type":"nominal",
   "scale":{"domain":["HRW USG","SRW USG"],"range":["#f76b6b","#3a87e6"]},
   "legend":{"orient":"none","legendX":344,"legendY":-40,"direction":"horizontal","title":null,
    "labelFontSize":32,"labelColor":"#333333","labelFont":"Liberation Sans","symbolType":"stroke","symbolSize":2500,
    "symbolStrokeWidth":3,"columnPadding":58,"labelOffset":4,"padding":0}}}},
{"data":{"name":"latest"},
 "mark":{"type":"circle","size":90,"opacity":1},
 "encoding":{
  "x":{"field":"date","type":"temporal","title":null},
  "y":{"field":"value","type":"quantitative","title":"$\u0332/\u0332M\u0332T\u0332"},
  "color":{"field":"series","type":"nominal","legend":null}}},
{"data":{"name":"latest"},
 "mark":{"type":"text","align":"left","baseline":"middle","dx":7,"fontSize":30,"font":"Liberation Sans"},
 "encoding":{
  "x":{"field":"date","type":"temporal","title":null},
  "y":{"field":"value","type":"quantitative","title":"$\u0332/\u0332M\u0332T\u0332"},
  "text":{"field":"value","type":"quantitative","format":".0f"},
  "color":{"field":"series","type":"nominal","legend":null}}}
],
"config":{
 "view":{"stroke":null},
 "font":"Liberation Sans",
 "axis":{"labelFont":"Liberation Sans","labelColor":"#333333","titleFont":"Liberation Sans"},
 "axisX":{"grid":false,"domain":true,"domainColor":"#d6d6d6","domainWidth":1.5,"ticks":true,"tickColor":"#d6d6d6","tickSize":8,"tickWidth":1.5,
  "labelAngle":-45,"labelFontSize":25,"labelAlign":"right","labelBaseline":"middle","labelPadding":10,"labelFlush":false,"labelOverlap":false},
 "axisY":{"grid":true,"gridColor":"#dcdcdc","gridWidth":1.5,"domain":false,"ticks":false,"labelFontSize":27,"labelPadding":26,
  "titleAngle":0,"titleAlign":"left","titleBaseline":"alphabetic","titleX":-73,"titleY":-8,"titleFontSize":27,"titleFontWeight":"normal","titleColor":"#333333"}
}
}
